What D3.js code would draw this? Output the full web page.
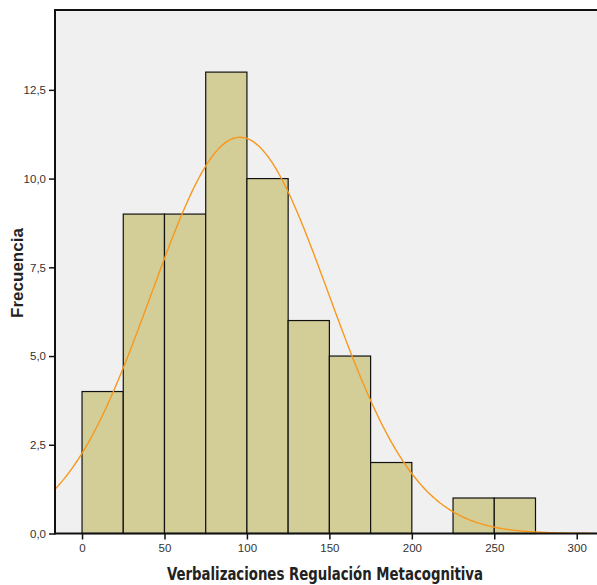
<!DOCTYPE html>
<html>
<head>
<meta charset="utf-8">
<script src="https://cdn.jsdelivr.net/npm/d3@7"></script>
<style>
  body { margin: 0; background: #fff; }
  svg text { font-family: "Liberation Sans", Arial, sans-serif; }
</style>
</head>
<body>
<svg id="chart" width="597" height="585"></svg>
<script>
// histogram bins (lower edge, upper edge, count)
const binStarts = [0, 25, 50, 75, 100, 125, 150, 175, 225, 250]
const binEnds = [25, 50, 75, 100, 125, 150, 175, 200, 250, 275]
const counts = [4, 9, 9, 13, 10, 6, 5, 2, 1, 1]
const xTicks = [0, 50, 100, 150, 200, 250, 300]
const yTicks = [0, 2.5, 5, 7.5, 10, 12.5]
// fitted normal curve params
const mean = 95.8
const sd = 53.6
const n = 60
const binWidth = 25

const width = 597, height = 585
const margin = { top: 10, right: 0, bottom: 51.5, left: 55 }

const svg = d3.select('#chart')
const x = d3.scaleLinear().domain([-16.4, 312.3]).range([margin.left, width - margin.right])
const y = d3.scaleLinear().domain([0, 14.75]).range([height - margin.bottom, margin.top])

svg.append('rect')
    .attr('x', margin.left)
    .attr('y', margin.top)
    .attr('width', width - margin.left - margin.right)
    .attr('height', height - margin.top - margin.bottom)
    .style('fill', '#f0f0f0')

const bars = binStarts.map((s, i) => ({ x0: s, x1: binEnds[i], count: counts[i] }))

svg.append('g')
    .attr('class', 'bars')
    .selectAll('rect')
    .data(bars)
    .enter().append('rect')
    .attr('x', d => x(d.x0))
    .attr('y', d => y(d.count))
    .attr('width', d => x(d.x1) - x(d.x0))
    .attr('height', d => y(0) - y(d.count))
    .style('fill', '#d3ce98')
    .style('stroke', '#111')
    .style('stroke-width', 1.2)

// normal curve
const curvePts = d3.range(-16.4, 312.4, 1).map(v => [v,
    n * binWidth / (sd * Math.sqrt(2 * Math.PI)) * Math.exp(-((v - mean) ** 2) / (2 * sd * sd))])

svg.append('path')
    .datum(curvePts)
    .attr('d', d3.line().x(d => x(d[0])).y(d => y(d[1])).curve(d3.curveBasis))
    .style('fill', 'none')
    .style('stroke', '#f7981d')
    .style('stroke-width', 1.4)

// axes
const fmt = d => d3.format('.1f')(d).replace('.', ',')

const yAxis = svg.append('g')
    .attr('transform', `translate(${margin.left},0)`)
    .call(d3.axisLeft(y).tickValues(yTicks).tickSize(6).tickPadding(3).tickFormat(fmt))
yAxis.select('.domain').remove()

const xAxis = svg.append('g')
    .attr('transform', `translate(0,${height - margin.bottom})`)
    .call(d3.axisBottom(x).tickValues(xTicks).tickSize(6).tickPadding(4).tickFormat(d3.format('d')))
xAxis.select('.domain').remove()

svg.selectAll('.tick line').style('stroke', '#111').style('stroke-width', 1.5)
svg.selectAll('.tick text').style('font-size', '11.5px').style('fill', '#333')

// frame lines
svg.append('line')
    .attr('x1', margin.left).attr('x2', width)
    .attr('y1', margin.top).attr('y2', margin.top)
    .style('stroke', '#111').style('stroke-width', 2)
svg.append('line')
    .attr('x1', margin.left).attr('x2', margin.left)
    .attr('y1', margin.top - 1).attr('y2', height - margin.bottom + 1)
    .style('stroke', '#111').style('stroke-width', 2)
svg.append('line')
    .attr('x1', margin.left).attr('x2', width)
    .attr('y1', height - margin.bottom).attr('y2', height - margin.bottom)
    .style('stroke', '#111').style('stroke-width', 2)

// titles
svg.append('text')
    .attr('x', 325)
    .attr('y', 580)
    .attr('text-anchor', 'middle')
    .attr('textLength', 316)
    .attr('lengthAdjust', 'spacingAndGlyphs')
    .style('font-family', '"DejaVu Sans Condensed", "DejaVu Sans", sans-serif')
    .style('font-stretch', 'condensed')
    .style('font-weight', 'bold')
    .style('font-size', '17px')
    .style('fill', '#222')
    .text('Verbalizaciones Regulación Metacognitiva')

svg.append('text')
    .attr('transform', 'translate(23,273) rotate(-90)')
    .attr('text-anchor', 'middle')
    .style('font-weight', 'bold')
    .style('font-size', '17px')
    .style('fill', '#222')
    .text('Frecuencia')
</script>
</body>
</html>
